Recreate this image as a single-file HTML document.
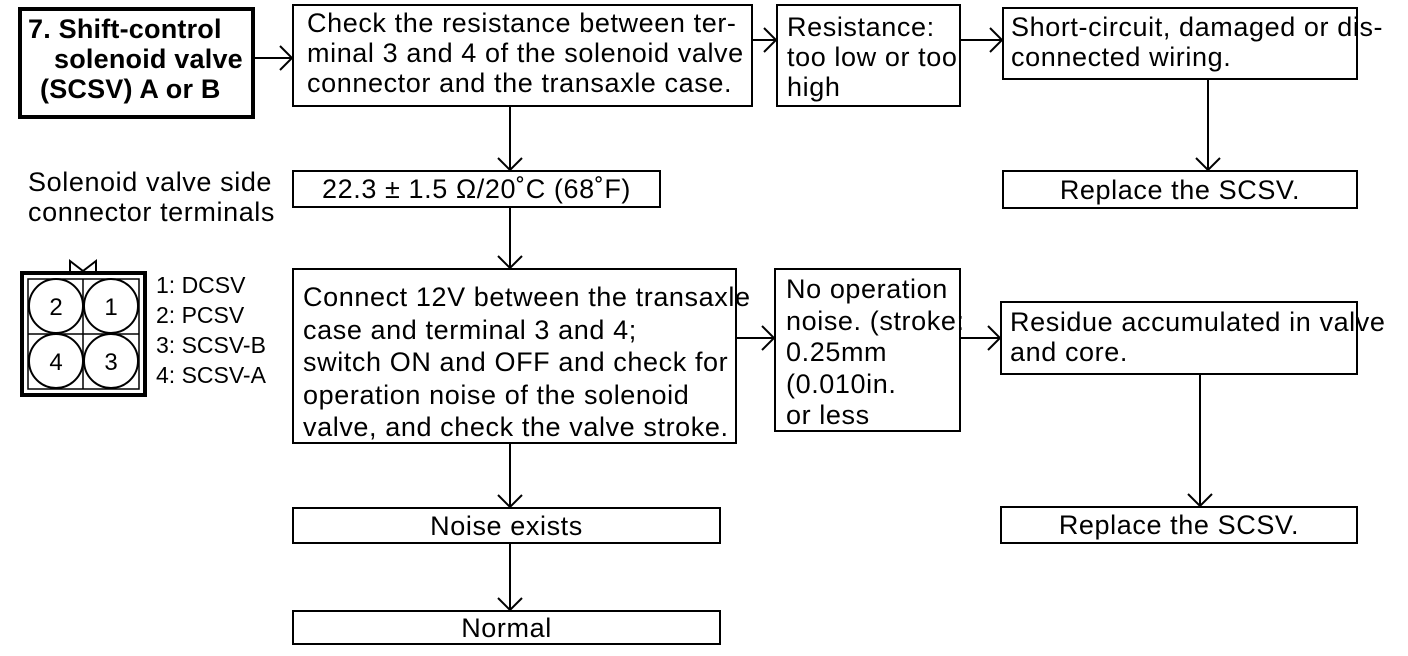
<!DOCTYPE html>
<html><head><meta charset="utf-8"><style>
html,body{margin:0;padding:0;background:#fff;}
#c{position:relative;width:1408px;height:656px;overflow:hidden;font-family:"Liberation Sans",Arial,sans-serif;color:#000;}
.t{position:absolute;font-size:27px;line-height:30px;white-space:nowrap;letter-spacing:0.6px;}
.b{font-weight:bold;letter-spacing:0.2px;}
.s{font-size:21.5px;letter-spacing:0;}
svg{position:absolute;left:0;top:0;}
</style></head><body><div id="c">
<svg width="1408" height="656" viewBox="0 0 1408 656" fill="none" stroke="#000" stroke-width="2">
<rect x="20" y="9" width="233" height="108" stroke-width="4"/>
<rect x="293" y="5" width="459" height="101"/>
<rect x="777" y="5" width="183" height="101"/>
<rect x="1003" y="8" width="354" height="71"/>
<rect x="1003" y="171" width="354" height="37"/>
<rect x="293" y="171" width="367" height="36"/>
<rect x="293" y="269" width="443" height="174"/>
<rect x="775" y="269" width="185" height="162"/>
<rect x="1001" y="302" width="356" height="72"/>
<rect x="1001" y="507" width="356" height="36"/>
<rect x="293" y="508" width="427" height="35"/>
<rect x="293" y="611" width="427" height="33"/>
<path d="M253 58H292M280 46l12 12-12 12"/>
<path d="M752 40H776M764 28l12 12-12 12"/>
<path d="M960 40H1002M990 28l12 12-12 12"/>
<path d="M1208 79V170M1196 158l12 12 12-12"/>
<path d="M510 106V170M498 158l12 12 12-12"/>
<path d="M510 207V268M498 256l12 12 12-12"/>
<path d="M736 338H774M762 326l12 12-12 12"/>
<path d="M960 338H1000M988 326l12 12-12 12"/>
<path d="M1200 374V506M1188 494l12 12 12-12"/>
<path d="M510 443V507M498 495l12 12 12-12"/>
<path d="M510 543V610M498 598l12 12 12-12"/>
<rect x="22" y="273" width="123" height="122" stroke-width="4"/>
<rect x="28" y="279" width="111" height="110" stroke-width="1.5"/>
<path d="M83 279V389M28 334H139" stroke-width="1.5"/>
<circle cx="56" cy="306" r="27"/><circle cx="111" cy="306" r="27"/>
<circle cx="56" cy="361" r="27"/><circle cx="111" cy="361" r="27"/>
<path d="M70 271V261L83 271L96 261V271"/>
<g fill="#000" stroke="none" font-family="Liberation Sans, Arial, sans-serif" font-size="24" text-anchor="middle">
<text x="56" y="315">2</text><text x="111" y="315">1</text>
<text x="56" y="370">4</text><text x="111" y="370">3</text>
</g>
</svg>
<div class="t b" style="left:28px;top:14px;">7. Shift-control</div>
<div class="t b" style="left:54px;top:44px;">solenoid valve</div>
<div class="t b" style="left:40px;top:74px;">(SCSV) A or B</div>
<div class="t" style="left:307px;top:8px;">Check the resistance between ter-<br>minal 3 and 4 of the solenoid valve<br>connector and the transaxle case.</div>
<div class="t" style="left:787px;top:12px;">Resistance:<br>too low or too<br>high</div>
<div class="t" style="left:1011px;top:12px;">Short-circuit, damaged or dis-<br>connected wiring.</div>
<div class="t" style="left:1003px;top:175px;width:354px;text-align:center;">Replace the SCSV.</div>
<div class="t" style="left:293px;top:174px;width:367px;text-align:center;">22.3 ± 1.5 Ω/20˚C (68˚F)</div>
<div class="t" style="left:28px;top:167px;">Solenoid valve side<br>connector terminals</div>
<div class="t s" style="left:156px;top:270px;font-size:23px;">1: DCSV<br>2: PCSV<br>3: SCSV-B<br>4: SCSV-A</div>
<div class="t" style="left:303px;top:281px;line-height:32.5px;">Connect 12V between the transaxle<br>case and terminal 3 and 4;<br>switch ON and OFF and check for<br>operation noise of the solenoid<br>valve, and check the valve stroke.</div>
<div class="t" style="left:786px;top:274px;line-height:31.5px;">No operation<br>noise. (stroke:<br>0.25mm<br>(0.010in.<br>or less</div>
<div class="t" style="left:1010px;top:307px;">Residue accumulated in valve<br>and core.</div>
<div class="t" style="left:1001px;top:510px;width:356px;text-align:center;">Replace the SCSV.</div>
<div class="t" style="left:293px;top:511px;width:427px;text-align:center;">Noise exists</div>
<div class="t" style="left:293px;top:613px;width:427px;text-align:center;">Normal</div>
</div></body></html>
